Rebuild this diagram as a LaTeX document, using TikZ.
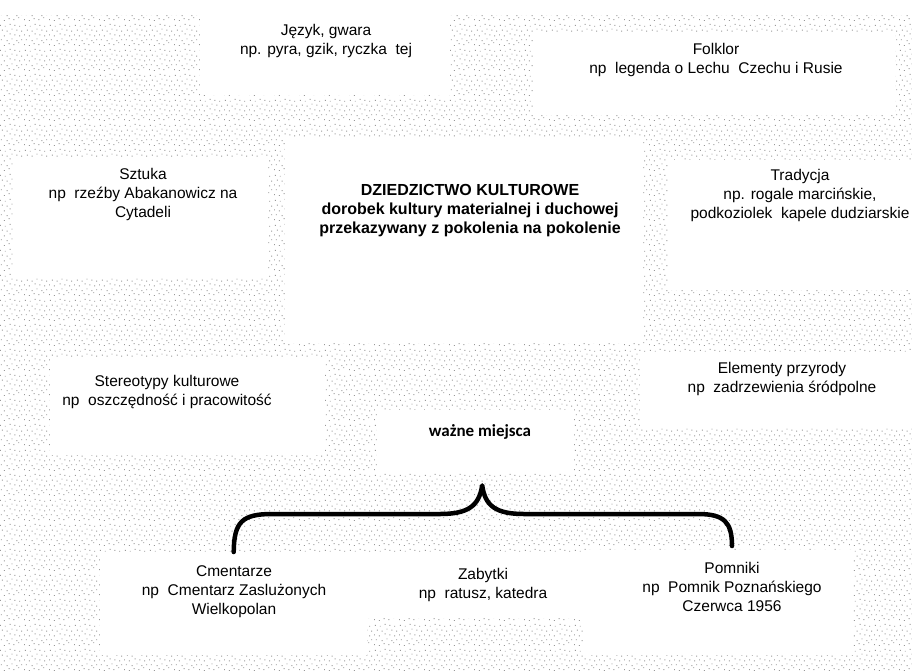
\documentclass[tikz,border=0pt]{standalone}
\usepackage{fontspec}
\setmainfont{Liberation Sans}
\newfontfamily\calib{Carlito}
\usetikzlibrary{calc,patterns.meta}
\tikzdeclarepattern{
  name=stip,
  type=uncolored,
  bounding box={(0pt,0pt) and (25pt,25pt)},
  tile size={(25pt,25pt)},
  code={
    \foreach \x/\y in {0/1,5/0,10/2,15/1,20/3,
                       2/6,8/5,13/7,18/5,23/6,
                       0/11,5/10,11/12,16/11,21/10,
                       3/16,8/15,13/17,18/16,23/15,
                       1/21,6/20,11/22,16/21,21/20}
      {\fill (\x pt,\y pt) rectangle ++(1pt,1pt);}
  }
}
\begin{document}
\begin{tikzpicture}[x=1pt,y=-1pt,
  box/.style={fill=white,draw=none,inner sep=0pt,anchor=north west},
  txt/.style={align=center,inner sep=0pt,font=\fontsize{15.5}{19}\selectfont},
  head/.style={align=center,inner sep=0pt,font=\fontsize{16}{19}\selectfont\bfseries},
  brace/.style={line width=4.5pt,line cap=round,line join=round}]
\useasboundingbox (0,0) rectangle (912,670);
\fill[white] (0,0) rectangle (912,670);
\fill[pattern={stip},pattern color=black!40] (0,15) rectangle (912,670);
% white boxes
\node[box,minimum width=250,minimum height=95] (bjez) at (200,0) {};
\node[box,minimum width=362,minimum height=83] (bfol) at (533,32) {};
\node[box,minimum width=255,minimum height=121] (bszt) at (13,157) {};
\node[box,minimum width=358,minimum height=206] (bcen) at (285,137) {};
\node[box,minimum width=244,minimum height=130] (btra) at (668,160) {};
\node[box,minimum width=275,minimum height=97] (bste) at (50,358) {};
\node[box,minimum width=196,minimum height=62] (bwaz) at (377,410) {};
\node[box,minimum width=272,minimum height=75] (bele) at (640,352) {};
\node[box,minimum width=267,minimum height=103] (bcme) at (100,552) {};
\node[box,minimum width=216,minimum height=66] (bzab) at (367,552) {};
\node[box,minimum width=270,minimum height=105] (bpom) at (583,550) {};
% texts
\node[txt] (tjez) at (326,41) {Język, gwara\\np. pyra, gzik, ryczka\ \ tej};
\node[txt] (tfol) at (716,60) {Folklor\\np\ \ legenda o Lechu\ \ Czechu i Rusie};
\node[txt] (tszt) at (143,194) {Sztuka\\np\ \ rzeźby Abakanowicz na\\Cytadeli};
\node[head] (tcen) at (470,211) {DZIEDZICTWO KULTUROWE\\dorobek kultury materialnej i duchowej\\przekazywany z pokolenia na pokolenie};
\node[txt] (ttra) at (800,195) {Tradycja\\np. rogale marcińskie,\\podkoziolek\ \ kapele dudziarskie};
\node[txt] (tste) at (167,392) {Stereotypy kulturowe\\np\ \ oszczędność i pracowitość};
\node[txt] (tele) at (782,379) {Elementy przyrody\\np\ \ zadrzewienia śródpolne};
\node[inner sep=0pt,font=\calib\fontsize{17}{20}\selectfont\bfseries] (twaz) at (480,432) {ważne miejsca};
\node[txt] (tcme) at (234,592) {Cmentarze\\np\ \ Cmentarz Zaslużonych\\Wielkopolan};
\node[txt] (tzab) at (483,585) {Zabytki\\np\ \ ratusz, katedra};
\node[txt] (tpom) at (732,587) {Pomniki\\np\ \ Pomnik Poznańskiego\\Czerwca 1956};
% brace
\coordinate (bl) at (bcme.north);
\coordinate (bt) at ($(bwaz.south)+(7,13)$);
\coordinate (br) at (732,546);
\draw[brace] (bl) .. controls (234,522) and (242,514) .. (272,514) -- (440,514)
  .. controls (468,514) and (479,506) .. (bt)
  .. controls (485,506) and (496,514) .. (524,514) -- (698,514)
  .. controls (724,514) and (732,522) .. (br);
\end{tikzpicture}
\end{document}
